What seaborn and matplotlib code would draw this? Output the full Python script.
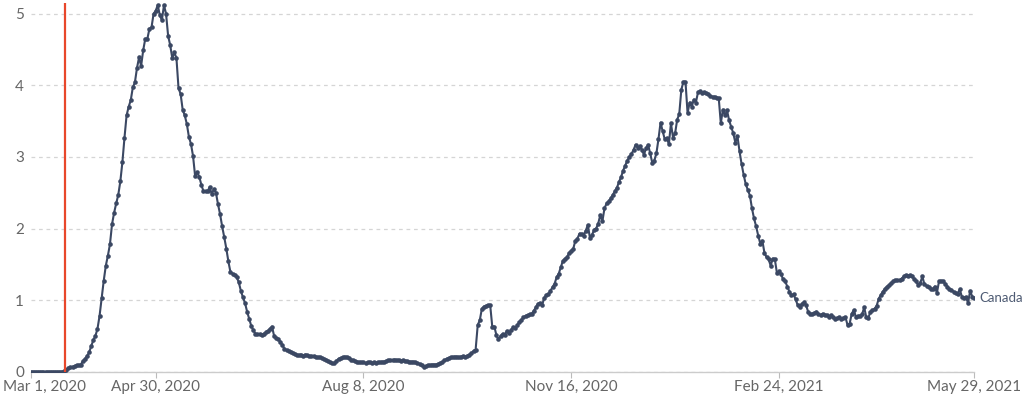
import numpy as np
import pandas as pd
import matplotlib
matplotlib.use('Agg')
import matplotlib.pyplot as plt
import matplotlib.transforms as mtransforms
import seaborn as sns

# daily values, Mar 1 2020 .. May 29 2021
start_date = '2020-03-01'
event_date = '2020-03-17 12:00'  # red vertical line
country = 'Canada'

# Mar 1 - Jun 28 2020 (first wave)
wave1 = [
    0, 0, 0, 0, 0, 0, 0, 0, 0, 0,
    0, 0, 0, 0, 0, 0, 0.01, 0.03, 0.05, 0.06,
    0.07, 0.08, 0.09, 0.09, 0.10, 0.15, 0.18, 0.22, 0.27, 0.36,
    0.44, 0.50, 0.60, 0.78, 1.03, 1.27, 1.48, 1.62, 1.78, 2.06,
    2.22, 2.35, 2.47, 2.66, 2.93, 3.27, 3.58, 3.70, 3.79, 3.97,
    4.04, 4.24, 4.39, 4.27, 4.49, 4.65, 4.65, 4.79, 4.81, 5.00,
    5.04, 5.12, 4.98, 4.91, 5.12, 5.00, 4.69, 4.56, 4.38, 4.46,
    4.38, 3.96, 3.88, 3.66, 3.58, 3.46, 3.28, 3.18, 3.01, 2.73,
    2.79, 2.72, 2.61, 2.52, 2.52, 2.52, 2.58, 2.48, 2.55, 2.50,
    2.34, 2.20, 2.03, 1.88, 1.72, 1.54, 1.39, 1.37, 1.35, 1.32,
    1.25, 1.13, 1.04, 0.96, 0.84, 0.74, 0.64, 0.58, 0.53, 0.52,
    0.52, 0.51, 0.53, 0.55, 0.57, 0.60, 0.63, 0.50, 0.47, 0.45,
]
# Jun 29 - Oct 6 2020 (summer lull)
summer = [
    0.42, 0.37, 0.32, 0.30, 0.29, 0.28, 0.26, 0.25, 0.23, 0.23,
    0.24, 0.22, 0.24, 0.23, 0.22, 0.22, 0.22, 0.21, 0.20, 0.20,
    0.19, 0.18, 0.17, 0.15, 0.13, 0.12, 0.12, 0.15, 0.18, 0.19,
    0.20, 0.21, 0.20, 0.19, 0.17, 0.16, 0.15, 0.14, 0.13, 0.13,
    0.13, 0.12, 0.13, 0.13, 0.12, 0.13, 0.12, 0.13, 0.13, 0.14,
    0.14, 0.15, 0.16, 0.16, 0.16, 0.17, 0.16, 0.16, 0.15, 0.16,
    0.15, 0.15, 0.14, 0.14, 0.14, 0.13, 0.12, 0.11, 0.09, 0.07,
    0.08, 0.09, 0.09, 0.10, 0.10, 0.10, 0.11, 0.12, 0.13, 0.16,
    0.18, 0.19, 0.20, 0.20, 0.21, 0.21, 0.20, 0.21, 0.22, 0.21,
    0.22, 0.24, 0.26, 0.29, 0.31, 0.65, 0.72, 0.88, 0.91, 0.92,
]
# Oct 7 2020 - Feb 3 2021 (second wave)
wave2 = [
    0.93, 0.93, 0.63, 0.63, 0.51, 0.45, 0.50, 0.53, 0.51, 0.57,
    0.54, 0.58, 0.62, 0.61, 0.65, 0.69, 0.72, 0.76, 0.78, 0.79,
    0.80, 0.81, 0.85, 0.90, 0.95, 0.96, 0.93, 1.03, 1.07, 1.08,
    1.13, 1.18, 1.23, 1.32, 1.37, 1.46, 1.55, 1.58, 1.60, 1.66,
    1.69, 1.72, 1.83, 1.86, 1.93, 1.92, 1.90, 1.97, 2.05, 1.87,
    1.91, 1.98, 2.00, 2.07, 2.19, 2.10, 2.28, 2.35, 2.38, 2.42,
    2.47, 2.52, 2.57, 2.65, 2.72, 2.81, 2.88, 2.95, 3.00, 3.04,
    3.10, 3.17, 3.13, 3.15, 3.10, 3.03, 3.12, 3.17, 3.05, 2.92,
    2.95, 3.05, 3.25, 3.48, 3.36, 3.25, 3.26, 3.18, 3.47, 3.27,
    3.33, 3.52, 3.60, 3.94, 4.05, 4.05, 3.61, 3.76, 3.70, 3.80,
    3.76, 3.90, 3.92, 3.89, 3.90, 3.89, 3.88, 3.85, 3.84, 3.84,
    3.83, 3.82, 3.47, 3.66, 3.58, 3.65, 3.51, 3.42, 3.33, 3.20,
]
# Feb 4 - May 29 2021
wave3 = [
    3.29, 3.08, 2.90, 2.75, 2.62, 2.54, 2.46, 2.28, 2.14, 2.03,
    1.90, 1.79, 1.83, 1.66, 1.60, 1.57, 1.48, 1.58, 1.57, 1.38,
    1.40, 1.36, 1.29, 1.26, 1.19, 1.12, 1.07, 1.08, 1.01, 0.93,
    0.91, 0.95, 0.97, 0.93, 0.84, 0.81, 0.81, 0.82, 0.84, 0.81,
    0.79, 0.81, 0.79, 0.79, 0.77, 0.79, 0.76, 0.74, 0.75, 0.76,
    0.73, 0.75, 0.76, 0.65, 0.67, 0.81, 0.86, 0.77, 0.78, 0.78,
    0.80, 0.90, 0.76, 0.75, 0.84, 0.86, 0.88, 0.92, 1.02, 1.07,
    1.12, 1.16, 1.19, 1.21, 1.24, 1.26, 1.28, 1.28, 1.28, 1.30,
    1.33, 1.35, 1.34, 1.35, 1.33, 1.30, 1.26, 1.21, 1.24, 1.33,
    1.22, 1.20, 1.18, 1.16, 1.15, 1.19, 1.10, 1.26, 1.27, 1.26,
    1.23, 1.19, 1.15, 1.14, 1.12, 1.10, 1.09, 1.15, 1.05, 1.03,
    1.04, 0.96, 1.13, 1.05, 1.03,
]

tick_dates = ['2020-03-01', '2020-04-30', '2020-08-08', '2020-11-16', '2021-02-24', '2021-05-29']
tick_labels = ['Mar 1, 2020', 'Apr 30, 2020', 'Aug 8, 2020', 'Nov 16, 2020', 'Feb 24, 2021', 'May 29, 2021']
y_ticks = [0, 1, 2, 3, 4, 5]

values = wave1 + summer + wave2 + wave3
df = pd.DataFrame({'date': pd.date_range(start_date, periods=len(values)), 'value': values})

sns.set_theme(style='white')
plt.rcParams['font.family'] = ['Lato', 'DejaVu Sans']

line_col = '#3b4863'
grey = '#666666'

fig = plt.figure(figsize=(10.24, 3.99), dpi=100)
ax = fig.add_axes([31 / 1024, 1 - 371.7 / 399, (974.3 - 31) / 1024, (371.7 - 3) / 399])

sns.lineplot(data=df, x='date', y='value', ax=ax, color=line_col, linewidth=1.5,
             marker='o', markersize=3.3, markeredgewidth=0, zorder=3)
ax.axvline(pd.Timestamp(event_date), color='#e8472b', linewidth=1.6, zorder=4)

ax.set_xlim(df['date'].iloc[0], df['date'].iloc[-1])
ax.set_ylim(0, 5.15)
ax.set_xlabel('')
ax.set_ylabel('')

ax.set_yticks(y_ticks)
ax.set_yticklabels([str(v) for v in y_ticks])
ax.yaxis.grid(True, linestyle=(0, (3, 3)), color='#d5d5d5', linewidth=0.9)
ax.xaxis.grid(False)
ax.set_xticks(pd.to_datetime(tick_dates))
ax.set_xticklabels(tick_labels)

ax.tick_params(axis='y', length=0, pad=5, labelsize=11, labelcolor=grey)
ax.tick_params(axis='x', length=4, width=0.8, color='#bbbbbb', pad=2, labelsize=11, labelcolor=grey, bottom=True)

for s in ['top', 'right', 'left']:
    ax.spines[s].set_visible(False)
ax.spines['bottom'].set_color('#cccccc')
ax.spines['bottom'].set_linewidth(1)

# first x label is pushed inside the figure like in the original
first = ax.get_xticklabels()[0]
first.set_horizontalalignment('left')
first.set_transform(first.get_transform() + mtransforms.ScaledTranslation(-0.28, 0, fig.dpi_scale_trans))

ax.annotate(country, xy=(df['date'].iloc[-1], df['value'].iloc[-1]), xytext=(4, 0),
            textcoords='offset points', va='center', ha='left', fontsize=9.5,
            color='#4e5b73', annotation_clip=False)

fig.savefig('out.png', dpi=100)
